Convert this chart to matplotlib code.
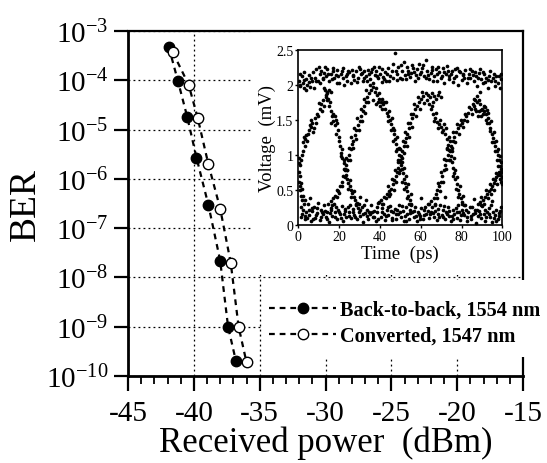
import numpy as np
import matplotlib
matplotlib.use('Agg')
import matplotlib.pyplot as plt
from matplotlib.patches import Rectangle
from matplotlib.ticker import FixedLocator, FixedFormatter, MultipleLocator

plt.rcParams['font.family'] = 'Liberation Serif'
plt.rcParams['mathtext.fontset'] = 'custom'
plt.rcParams['mathtext.rm'] = 'Liberation Serif'
plt.rcParams['axes.unicode_minus'] = False

# ---------------- data ----------------
b2b_x = [-41.9, -41.2, -40.5, -39.8, -38.9, -38.0, -37.4, -36.8]
b2b_ber = [4.7e-4, 9.5e-5, 1.8e-5, 2.7e-6, 3.0e-7, 2.2e-8, 1.0e-9, 2.0e-10]
conv_x = [-41.6, -40.4, -39.7, -38.9, -38.0, -37.2, -36.6, -36.0]
conv_ber = [3.7e-4, 8.2e-5, 1.7e-5, 2.0e-6, 2.5e-7, 2.0e-8, 1.0e-9, 1.9e-10]
labels = ["Back-to-back, 1554 nm", "Converted, 1547 nm"]

x_ticks = [-45, -40, -35, -30, -25, -20, -15]
y_decades = [-10, -9, -8, -7, -6, -5, -4, -3]

# eye diagram samples (time ps, voltage mV)
eye_top = [(0.3,2.05),(0.9,1.98),(1.6,2.12),(2.2,2.02),(3.0,1.95),(3.7,2.08),(4.5,2.00),(5.1,2.14),(5.8,1.97),(6.7,2.05),
           (7.4,2.18),(8.0,2.10),(8.9,2.22),(9.6,2.06),(10.4,2.15),(11.2,2.20),(11.9,2.08),(12.8,2.17),(13.5,2.12),(14.3,2.22),
           (15.2,2.05),(15.9,2.15),(16.8,2.19),(17.6,2.09),(18.3,2.14),(19.1,2.21),(20.0,2.03),(20.8,2.16),(21.7,2.10),(22.5,2.00),
           (23.4,2.13),(24.1,2.06),(25.0,2.18),(25.9,2.02),(26.7,2.12),(27.4,2.07),(28.3,2.20),(29.2,2.10),(30.0,2.22),(30.7,2.15),
           (31.6,2.05),(32.4,2.19),(33.3,2.12),(34.1,2.21),(35.0,2.08),(35.8,2.18),(36.5,2.02),(37.4,2.14),(38.3,2.20),(39.1,2.09),
           (40.0,2.16),(40.8,2.23),(41.5,2.11),(42.4,2.18),(43.2,2.05),(44.1,2.24),(44.9,2.13),(45.8,2.20),(46.6,2.30),(47.3,2.45),
           (48.2,2.16),(49.0,2.25),(49.9,2.10),(50.7,2.19),(51.6,2.32),(52.3,2.14),(53.2,2.26),(54.0,2.20),(54.9,2.11),(55.7,2.28),
           (56.6,2.18),(57.4,2.06),(58.1,2.22),(59.0,2.30),(59.8,2.15),(60.7,2.24),(61.5,2.12),(62.4,2.35),(63.2,2.20),(64.0,2.08),
           (64.9,2.17),(65.7,2.25),(66.6,2.13),(67.3,2.22),(68.2,2.05),(69.0,2.18),(69.9,2.10),(70.7,2.24),(71.6,2.02),(72.4,2.15),
           (73.3,2.20),(74.1,2.08),(75.0,2.16),(75.8,2.04),(76.7,2.22),(77.5,2.12),(78.4,2.00),(79.2,2.18),(80.1,2.07),(80.9,2.14),
           (81.8,2.21),(82.6,2.03),(83.5,2.16),(84.3,2.10),(85.2,2.20),(86.0,2.05),(86.9,2.13),(87.7,1.98),(88.6,2.17),(89.4,2.08),
           (90.3,2.02),(91.1,2.15),(92.0,2.10),(92.8,1.96),(93.7,2.13),(94.5,2.05),(95.4,2.10),(96.2,1.98),(97.1,2.12),(97.9,2.03),
           (98.8,1.95),(99.6,2.08),
           (1.0,2.00),(2.6,2.07),(4.0,1.93),(6.2,2.10),(8.5,2.05),(10.0,2.25),(12.3,2.10),(14.8,2.16),(17.2,2.24),(19.6,2.12),
           (21.2,2.20),(23.8,2.15),(26.2,2.21),(28.8,2.04),(31.2,2.17),(33.8,2.06),(36.1,2.22),(38.8,2.12),(41.1,2.04),(43.7,2.16),
           (46.2,2.10),(48.6,2.07),(50.3,2.28),(52.8,2.08),(55.3,2.17),(57.8,2.14),(60.3,2.18),(62.8,2.10),(65.3,2.21),(67.8,2.16),
           (70.3,2.13),(72.8,2.27),(75.4,2.20),(77.9,2.24),(80.5,2.16),(83.0,2.09),(85.6,2.14),(88.2,2.10),(90.7,2.18),(93.2,2.07),
           (95.8,2.16),(98.3,2.12),
           (0.6,2.15),(2.9,2.18),(5.4,2.04),(7.8,1.96),(10.7,2.02),(13.0,2.26),(16.3,2.08),(18.8,2.02),(22.0,2.24),(24.5,2.20),
           (27.0,2.14),(29.6,2.26),(32.0,2.10),(34.5,2.15),(37.0,2.25),(39.6,2.26),(42.0,2.08),(44.5,2.05),(47.8,2.20),(51.0,2.08),
           (53.6,2.16),(56.2,2.24),(58.6,2.10),(61.1,2.28),(63.6,2.14),(66.2,2.06),(68.6,2.26),(71.2,2.18),(73.8,2.12),(76.3,2.10),
           (78.9,2.20),(81.4,2.10),(84.0,2.22),(86.4,2.18),(89.0,2.22),(91.5,2.04),(94.0,2.20),(96.6,2.06),(99.2,2.16)]

eye_bottom = [(1.5,0.12),(2.3,0.22),(3.1,0.08),(3.8,0.18),(4.6,0.30),(5.3,0.14),(6.0,0.05),(6.8,0.20),(7.5,0.26),(8.3,0.10),
              (9.0,0.17),(9.8,0.32),(10.5,0.07),(11.3,0.21),(12.0,0.15),(12.8,0.28),(13.5,0.11),(14.3,0.19),(15.1,0.04),(15.8,0.24),
              (16.6,0.13),(17.4,0.30),(18.1,0.18),(18.9,0.09),(19.7,0.22),(20.4,0.15),(21.2,0.27),(22.0,0.06),(22.7,0.20),(23.5,0.12),
              (24.3,0.25),(25.0,0.18),(25.8,0.10),(26.6,0.23),(27.3,0.14),(28.1,0.30),(28.9,0.08),(29.6,0.19),(30.4,0.13),(31.2,0.26),
              (31.9,0.04),(32.7,0.17),(33.5,0.22),(34.2,0.09),(35.0,0.15),(35.8,0.28),(36.5,0.12),(37.3,0.20),(38.1,0.05),(38.8,0.18),
              (39.6,0.33),(40.4,0.11),(41.1,0.24),(41.9,0.16),(42.7,0.07),(43.4,0.21),(44.2,0.14),(45.0,0.27),(45.7,0.10),(46.5,0.19),
              (47.3,0.23),(48.0,0.08),(48.8,0.16),(49.6,0.29),(50.3,0.12),(51.1,0.20),(51.9,0.05),(52.6,0.25),(53.4,0.15),(54.2,0.09),
              (54.9,0.22),(55.7,0.18),(56.5,0.11),(57.2,0.26),(58.0,0.06),(58.8,0.19),(59.5,0.13),(60.3,0.24),(61.1,0.08),(61.8,0.21),
              (62.6,0.15),(63.4,0.30),(64.1,0.10),(64.9,0.18),(65.7,0.25),(66.4,0.12),(67.2,0.20),(68.0,0.07),(68.7,0.16),(69.5,0.28),
              (70.3,0.14),(71.0,0.22),(71.8,0.09),(72.6,0.19),(73.3,0.26),(74.1,0.13),(74.9,0.05),(75.6,0.21),(76.4,0.16),(77.2,0.24),
              (77.9,0.10),(78.7,0.18),(79.5,0.07),(80.2,0.22),(81.0,0.14),(81.8,0.29),(82.5,0.11),(83.3,0.19),(84.1,0.25),(84.8,0.08),
              (85.6,0.16),(86.4,0.21),(87.1,0.03),(87.9,0.13),(88.7,0.20),(89.4,0.10),(90.2,0.27),(91.0,0.15),(91.7,0.06),(92.5,0.18),
              (93.3,0.24),(94.0,0.12),(94.8,0.04),(95.6,0.19),(96.3,0.14),(97.1,0.22),(97.9,0.09),(98.6,0.17),(99.4,0.26),
              (2.0,0.16),(4.2,0.10),(6.5,0.24),(8.8,0.14),(11.0,0.11),(13.2,0.20),(15.5,0.17),(17.8,0.12),(20.0,0.19),(22.3,0.16),
              (24.7,0.13),(27.0,0.19),(29.3,0.24),(31.6,0.15),(33.9,0.13),(36.2,0.19),(38.5,0.25),(40.8,0.18),(43.1,0.13),(45.4,0.20),
              (47.7,0.15),(50.0,0.18),(52.3,0.13),(54.6,0.17),(56.9,0.20),(59.2,0.16),(61.5,0.14),(63.8,0.20),(66.1,0.17),(68.4,0.23),
              (70.7,0.11),(73.0,0.16),(75.3,0.13),(77.6,0.18),(79.9,0.14),(82.2,0.21),(84.5,0.13),(86.8,0.17),(89.1,0.15),(91.4,0.21),
              (93.7,0.16),(96.0,0.10),(98.3,0.13),(5.6,0.38),(19.2,0.40),(33.0,0.36),(44.6,0.42),(60.0,0.38),(72.0,0.40),(86.0,0.37),
              (95.0,0.34),
              (1.2,0.25),(3.4,0.13),(5.0,0.22),(7.1,0.09),(9.4,0.24),(11.7,0.18),(14.0,0.08),(16.2,0.21),(18.6,0.26),(21.0,0.10),
              (23.1,0.23),(25.5,0.28),(27.8,0.11),(30.1,0.21),(32.3,0.29),(34.6,0.18),(37.0,0.12),(39.2,0.09),(41.5,0.30),(43.8,0.25),
              (46.1,0.07),(48.4,0.22),(50.7,0.27),(53.0,0.06),(55.3,0.29),(57.6,0.13),(59.9,0.09),(62.2,0.26),(64.5,0.15),(66.8,0.28),
              (69.1,0.12),(71.4,0.27),(73.7,0.20),(76.0,0.09),(78.3,0.29),(80.6,0.17),(82.9,0.06),(85.2,0.26),(87.5,0.22),(89.8,0.29),
              (92.1,0.11),(94.4,0.28),(96.7,0.06),(99.0,0.20)]

eye_edges = [
    (0.4,0.62),(0.8,0.85),(1.2,0.92),(0.6,0.55),(1.8,1.00),(2.5,1.18),(3.2,1.22),(3.8,1.28),(4.5,1.20),(5.2,1.35),
    (6.0,1.40),(6.8,1.46),(7.5,1.38),(8.2,1.52),(9.0,1.58),(9.8,1.55),(10.6,1.65),(11.3,1.72),(12.0,1.78),(12.8,1.70),
    (13.5,1.83),(14.3,1.88),(15.0,1.92),(16.0,1.90),(0.3,0.75),(0.9,0.50),(1.4,0.42),(2.0,0.35),(2.8,0.30),
    (12.5,1.95),(13.4,1.85),(14.2,1.78),(15.0,1.70),(15.8,1.62),(16.5,1.55),(17.2,1.48),(17.0,1.58),(18.0,1.42),(18.6,1.50),
    (19.3,1.35),(19.8,1.25),(20.5,1.12),(21.0,1.02),(21.6,0.95),(22.2,0.88),(22.8,0.80),(23.4,0.72),(24.0,0.66),(24.6,0.60),
    (25.2,0.55),(25.8,0.50),(26.5,0.45),(27.2,0.40),(28.0,0.36),(28.8,0.32),(29.6,0.30),
    (14.5,0.30),(15.8,0.34),(17.0,0.38),(18.2,0.42),(19.3,0.48),(20.3,0.55),(21.2,0.62),(22.0,0.70),(22.8,0.78),(23.6,0.85),
    (24.3,0.92),(25.0,1.00),(25.6,1.08),(26.3,1.15),(27.0,1.20),(27.7,1.28),(28.5,1.35),(29.3,1.42),(30.0,1.48),(30.8,1.55),
    (31.5,1.62),(32.2,1.70),(33.0,1.76),(33.8,1.82),(34.7,1.88),(35.6,1.93),(36.5,1.97),
    (37.5,1.90),(38.5,1.85),(39.5,1.80),(40.5,1.76),(41.5,1.72),(42.5,1.66),(43.3,1.60),(44.0,1.55),(44.8,1.50),(45.5,1.44),
    (46.2,1.38),(46.8,1.30),(47.4,1.22),(48.0,1.15),(48.6,1.08),(49.2,1.00),(49.8,0.93),(50.3,0.86),(50.8,0.80),(51.3,0.74),
    (51.8,0.66),(52.3,0.60),(52.8,0.54),(53.3,0.48),(53.9,0.42),(54.6,0.36),(55.4,0.30),
    (36.8,1.78),(38.0,1.72),(39.0,1.76),(40.0,1.70),(41.0,1.80),(42.0,1.75),
    (39.0,0.32),(40.5,0.36),(42.0,0.40),(43.5,0.44),(44.5,0.48),(45.5,0.52),(46.3,0.58),(47.0,0.64),(47.7,0.70),(48.4,0.76),
    (49.0,0.82),(49.7,0.90),(50.3,0.98),(51.0,1.05),(51.6,1.12),(52.2,1.18),(52.8,1.24),(53.5,1.30),(54.2,1.38),(54.9,1.45),
    (55.6,1.52),(56.3,1.58),(57.1,1.65),(58.0,1.70),(59.0,1.75),(60.0,1.80),(61.2,1.84),(62.5,1.88),
    (63.5,1.86),(64.5,1.82),(65.5,1.88),(66.5,1.84),(67.5,1.80),(68.5,1.86),(70.0,1.83),
    (64.0,1.72),(65.0,1.65),(66.0,1.58),(67.0,1.52),(68.0,1.47),(69.0,1.44),(70.0,1.40),(71.0,1.36),(72.0,1.30),(72.8,1.22),
    (73.5,1.14),(74.2,1.06),(74.8,0.98),(75.4,0.90),(76.0,0.82),(76.5,0.74),(77.0,0.66),(77.6,0.58),(78.2,0.50),(78.9,0.44),
    (79.6,0.38),(80.4,0.33),(81.3,0.28),
    (64.0,0.30),(65.2,0.34),(66.3,0.38),(67.3,0.44),(68.2,0.50),(69.0,0.56),(69.8,0.62),(70.5,0.70),(71.2,0.78),(71.9,0.86),
    (72.6,0.93),(73.3,1.00),(74.0,1.07),(74.8,1.13),(75.6,1.20),(76.5,1.26),(77.4,1.32),(78.3,1.38),(79.2,1.42),(80.2,1.46),
    (81.2,1.50),(82.3,1.55),(83.4,1.60),(84.5,1.66),(85.6,1.72),(86.7,1.78),(87.8,1.84),(89.0,1.90),
    (86.0,1.80),(87.5,1.76),(89.0,1.72),(90.0,1.66),(91.0,1.62),(92.0,1.58),(92.8,1.52),(93.5,1.45),(94.2,1.38),(94.8,1.30),
    (95.4,1.24),(96.0,1.18),(96.6,1.12),(97.2,1.06),(97.8,1.00),(98.4,0.92),(98.9,0.84),(99.4,0.76),(99.8,0.68),
    (88.5,1.62),(89.8,1.56),(90.8,1.70),(91.8,1.50),(92.6,1.64),
    (88.0,0.30),(89.3,0.33),(90.5,0.36),(91.6,0.40),(92.6,0.44),(93.5,0.48),(94.3,0.52),(95.0,0.56),(95.7,0.60),(96.4,0.64),
    (97.1,0.68),(97.8,0.72),(98.5,0.76),(99.2,0.80),(99.7,0.58)]

eye_spread = [
    (1.0,0.70),(2.2,1.05),(3.5,1.12),(4.8,1.30),(6.3,1.50),(7.0,1.32),(8.7,1.45),(10.2,1.74),(11.8,1.62),(13.0,1.92),
    (14.8,1.80),(2.8,1.25),(5.6,1.42),(0.2,0.88),(0.5,0.95),(1.1,0.60),(1.7,0.52),(2.4,0.42),(3.4,0.36),
    (14.0,1.90),(15.5,1.76),(16.2,1.45),(17.8,1.55),(18.4,1.30),(19.0,1.45),(20.1,1.20),(20.8,0.98),(21.4,1.08),(22.5,0.92),
    (23.0,0.68),(23.8,0.78),(24.4,0.52),(25.5,0.64),(26.0,0.40),(27.5,0.48),(28.4,0.28),(30.2,0.40),
    (16.4,0.28),(18.8,0.50),(20.0,0.46),(21.6,0.56),(22.4,0.80),(23.2,0.95),(24.0,0.78),(24.8,1.10),(25.3,0.92),(26.0,1.25),
    (26.8,1.10),(27.4,1.38),(28.2,1.22),(29.0,1.52),(29.8,1.36),(30.5,1.65),(31.2,1.48),(32.0,1.80),(32.6,1.60),(33.4,1.92),
    (34.2,1.75),(35.2,2.00),
    (38.2,1.95),(39.8,1.88),(41.2,1.65),(42.8,1.75),(43.8,1.48),(44.5,1.62),(45.2,1.35),(45.9,1.52),(46.5,1.20),(47.1,1.36),
    (47.8,1.05),(48.3,1.25),(49.0,0.90),(49.5,1.10),(50.0,0.78),(50.6,0.95),(51.0,0.62),(51.6,0.82),(52.0,0.52),(52.6,0.70),
    (53.2,0.38),(53.6,0.58),(54.2,0.30),(55.0,0.44),
    (41.2,0.30),(43.0,0.38),(44.0,0.55),(45.0,0.44),(46.0,0.65),(46.7,0.50),(47.4,0.78),(48.0,0.62),(48.8,0.92),(49.4,0.74),
    (50.0,1.08),(50.6,0.90),(51.3,1.20),(52.0,1.02),(52.5,1.32),(53.1,1.12),(53.8,1.45),(54.5,1.25),(55.2,1.58),(55.9,1.40),
    (56.7,1.72),(57.5,1.55),(58.5,1.82),(59.5,1.66),(60.5,1.90),(61.8,1.74),(63.0,1.78),(66.0,1.76),(69.2,1.90),
    (65.5,1.70),(66.6,1.48),(67.6,1.60),(68.6,1.38),(69.6,1.50),(70.5,1.32),(71.5,1.44),(72.3,1.38),(73.0,1.08),(73.8,1.25),
    (74.5,0.92),(75.1,1.10),(75.8,0.70),(76.2,0.95),(76.8,0.78),(77.3,0.52),(77.9,0.68),(78.5,0.40),(79.2,0.55),(80.0,0.30),
    (80.8,0.42),
    (66.8,0.30),(67.8,0.38),(68.6,0.60),(69.4,0.48),(70.1,0.76),(70.9,0.62),(71.6,0.94),(72.2,0.80),(73.0,1.10),(73.7,0.92),
    (74.4,1.20),(75.2,1.05),(76.0,1.32),(77.0,1.18),(77.8,1.44),(78.8,1.30),(79.7,1.50),(80.7,1.40),(81.7,1.58),(82.8,1.48),
    (83.9,1.68),(85.0,1.58),(86.2,1.70),(87.2,1.62),(88.4,1.78),
    (86.6,1.66),(88.0,1.56),(89.4,1.64),(90.4,1.58),(91.4,1.68),(92.4,1.46),(93.0,1.60),(93.9,1.34),(94.5,1.48),(95.1,1.18),
    (95.7,1.32),(96.3,1.05),(96.9,1.20),(97.5,0.92),(98.1,1.08),(98.7,0.72),(99.1,0.98),(99.6,0.62),
    (89.8,0.40),(91.0,0.30),(92.2,0.50),(93.0,0.38),(93.9,0.58),(94.6,0.44),(95.3,0.66),(96.0,0.50),(96.8,0.74),(97.4,0.58),
    (98.1,0.84),(98.8,0.66),(99.5,0.90)]

eye_t_ticks = [0, 20, 40, 60, 80, 100]
eye_v_ticks = [0, 0.5, 1, 1.5, 2, 2.5]
eye_v_labels = ['0', '0.5', '1', '1.5', '2', '2.5']

# ---------------- figure ----------------
W, H = 547, 464
fig = plt.figure(figsize=(W/100, H/100), dpi=100)
ax = fig.add_axes([128/W, 1-377/H, 395/W, 345/H])

ax.set_yscale('log')
ax.set_xlim(-45, -15)
ax.set_ylim(1e-10, 1e-3)

ax.set_axisbelow(True)
ax.grid(True, which='major', linestyle=(0, (1.5, 2.5)), color='black', linewidth=0.9)

# white areas behind the inset and the legend (drawn under the frame)
ax.add_patch(Rectangle((-35.5, 10**-7.96), 20.7, 10**-2.98 - 10**-7.96,
                       facecolor='white', edgecolor='none', zorder=1, clip_on=False))
ax.add_patch(Rectangle((-34.8, 10**-9.62), 21.5, 10**-8.06 - 10**-9.62,
                       facecolor='white', edgecolor='none', zorder=3, clip_on=False))

dash = (0, (2.6, 2.2))
ax.plot(b2b_x, b2b_ber, linestyle=dash, color='black', linewidth=1.6,
        marker='o', markersize=7.5, markerfacecolor='black', markeredgecolor='black',
        markeredgewidth=1.0, label=labels[0], zorder=4)
ax.plot(conv_x, conv_ber, linestyle=dash, color='black', linewidth=1.6,
        marker='o', markersize=7.5, markerfacecolor='white', markeredgecolor='black',
        markeredgewidth=1.0, label=labels[1], zorder=4)

ax.xaxis.set_major_locator(FixedLocator(x_ticks))
ax.xaxis.set_minor_locator(MultipleLocator(1))
ax.yaxis.set_major_locator(FixedLocator([10.0**d for d in y_decades]))
ax.yaxis.set_major_formatter(FixedFormatter([r'$\mathregular{10^{%d}}$' % d for d in y_decades]))
ax.yaxis.set_minor_locator(FixedLocator([]))
ax.tick_params(axis='x', which='major', direction='out', length=11, width=1.6, labelsize=21, pad=6)
ax.tick_params(axis='x', which='minor', direction='out', length=6, width=1.3)
ax.tick_params(axis='y', which='major', direction='out', length=10, width=1.6, labelsize=21, pad=4)
for s in ['left', 'bottom']:
    ax.spines[s].set_linewidth(2.0)
for s in ['top', 'right']:
    ax.spines[s].set_linewidth(1.6)

ax.set_xlabel('Received power  (dBm)', fontsize=25, labelpad=0)
ax.set_ylabel('BER', fontsize=27, labelpad=2)

leg = ax.legend(loc='center left', bbox_to_anchor=(263/W, 1-324/H), bbox_transform=fig.transFigure,
                frameon=True, facecolor='white', edgecolor='white', framealpha=1.0,
                prop={'family': 'Liberation Serif', 'weight': 'bold', 'size': 14.6},
                handlelength=3.3, handletextpad=0.2, labelspacing=0.3, borderpad=0.3,
                borderaxespad=0, fancybox=False)
leg.set_zorder(10)

# ---------------- inset ----------------
axi = fig.add_axes([298.3/W, 1-226/H, 204/W, 175.3/H], zorder=6)
axi.set_facecolor('white')
pts = eye_top + eye_bottom + eye_edges + eye_spread
et = [p[0] for p in pts]
ev = [p[1] for p in pts]
axi.scatter(et, ev, s=7, c='black', marker='o', linewidths=0)
axi.set_xlim(0, 100)
axi.set_ylim(0, 2.5)
axi.set_xticks(eye_t_ticks)
axi.set_yticks(eye_v_ticks)
axi.set_yticklabels(eye_v_labels)
axi.tick_params(direction='out', length=2.5, width=1.0, labelsize=10, pad=1.0)
for s in axi.spines.values():
    s.set_linewidth(1.2)
axi.set_xlabel('Time  (ps)', fontsize=13.5, labelpad=1)
axi.set_ylabel('Voltage  (mV)', fontsize=13.5, labelpad=0)

fig.savefig('out.png', dpi=100)
